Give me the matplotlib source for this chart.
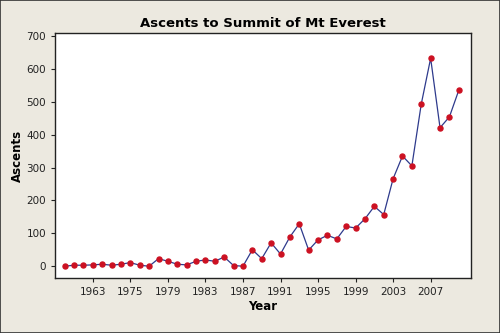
import numpy as np
import matplotlib.pyplot as plt

# ascents per recorded year (categorical index axis, like a Minitab time series plot)
ascents = [0, 3, 3, 4, 6, 3, 6, 11, 3, 0, 23, 15, 6, 4, 15, 19, 15, 28, 2, 0,
           50, 23, 71, 37, 89, 129, 49, 80, 94, 83, 121, 116, 144, 182, 157,
           266, 335, 305, 493, 632, 421, 454, 535]
tick_idx = [3, 7, 11, 15, 19, 23, 27, 31, 35, 39]
tick_labels = ["1963", "1975", "1979", "1983", "1987", "1991", "1995", "1999", "2003", "2007"]

bg = "#ECE9E0"
fig = plt.figure(figsize=(5, 3.33), dpi=100, facecolor=bg)
fig.patches.append(plt.Rectangle((0, 0), 1, 1, transform=fig.transFigure,
                                 fill=False, edgecolor="#333333", linewidth=1.2))
ax = fig.add_axes([0.11, 0.165, 0.832, 0.736])
ax.set_facecolor("white")

x = np.arange(1, len(ascents) + 1)
ax.plot(x, ascents, color="#2E3A8C", linewidth=0.9, marker="o", markersize=3.6,
        markerfacecolor="#CC1122", markeredgecolor="#CC1122", zorder=3)

ax.set_xlim(-0.03, 44.3)
ax.set_ylim(-36, 709)
ax.set_xticks(np.array(tick_idx) + 1)
ax.set_xticklabels(tick_labels)
ax.set_yticks(range(0, 701, 100))

for s in ax.spines.values():
    s.set_color("#222222")
    s.set_linewidth(1.0)
ax.tick_params(labelsize=7.5, length=3, color="#222222", labelcolor="#222222")

ax.set_title("Ascents to Summit of Mt Everest", fontsize=9.5, fontweight="bold", pad=4)
ax.set_xlabel("Year", fontsize=8.5, fontweight="bold", labelpad=2)
ax.set_ylabel("Ascents", fontsize=8.5, fontweight="bold")
ax.yaxis.set_label_coords(-0.075, 0.5)

fig.savefig("out.png", dpi=100, facecolor=bg)
